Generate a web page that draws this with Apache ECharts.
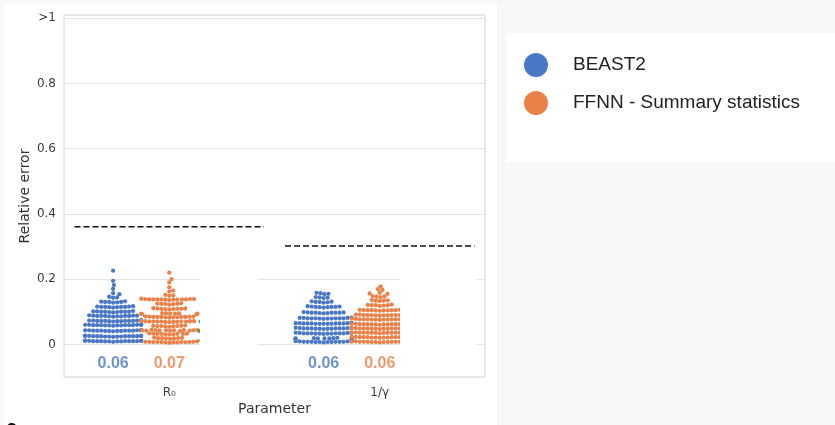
<!DOCTYPE html>
<html>
<head>
<meta charset="utf-8">
<script src="https://cdn.jsdelivr.net/npm/echarts@6/dist/echarts.min.js"></script>
<style>
  html, body { margin: 0; padding: 0; background: #f8f8f8; }
  #wrap { position: relative; width: 835px; height: 425px; overflow: hidden; }
  #panel { position: absolute; left: 4px; top: 4px; width: 493px; height: 421px; background: #fff; }
  #legendBox { position: absolute; left: 506px; top: 33px; width: 329px; height: 129px; background: #fff; }
  #chart { position: absolute; left: 0; top: 0; width: 835px; height: 425px; }
</style>
</head>
<body>
<div id="wrap">
  <div id="panel"></div>
  <div id="legendBox"></div>
  <div id="chart"></div>
</div>
<script>
// ---- data ---------------------------------------------------------------
const categories = ['R₀', '1/γ'];
const methods = ['BEAST2', 'FFNN - Summary statistics'];

// relative errors per test tree, R0
const beast2R0 = [
  0.010,0.009,0.011,0.010,0.008,0.012,0.010,0.009,0.011,0.010,0.010,0.009,0.011,0.010,0.009,0.011,0.010,
  0.025,0.024,0.026,0.025,0.023,0.027,0.025,0.024,0.026,0.025,0.025,0.024,0.026,0.025,0.024,0.026,0.025,
  0.042,0.041,0.043,0.042,0.040,0.044,0.042,0.041,0.043,0.042,0.042,0.041,0.043,0.042,0.041,0.043,
  0.059,0.058,0.060,0.059,0.057,0.061,0.059,0.058,0.060,0.059,0.059,0.058,0.060,0.059,0.058,0.060,
  0.072,0.071,0.073,0.072,0.070,0.074,0.072,0.071,0.073,0.072,0.072,0.071,0.073,0.072,
  0.087,0.086,0.088,0.087,0.085,0.089,0.087,0.086,0.088,0.087,0.087,0.086,0.088,
  0.100,0.099,0.101,0.100,0.098,0.102,0.100,0.099,0.101,0.100,0.100,
  0.115,0.114,0.116,0.115,0.113,0.117,0.115,0.114,0.116,0.115,
  0.130,0.129,0.131,0.130,0.128,0.132,0.130,
  0.143,0.144,0.146,
  0.154,0.157,0.170,0.182,0.195,0.226
];
const ffnnR0 = [
  0.007,0.006,0.008,0.007,0.005,0.009,0.007,0.006,0.008,0.007,0.007,0.006,0.008,0.007,
  0.019,0.018,0.020,0.019,0.017,0.021,0.019,0.018,
  0.032,0.031,0.033,0.032,0.030,0.034,0.032,0.031,0.033,0.032,
  0.043,0.042,0.044,0.043,0.041,0.045,0.043,0.042,0.044,0.043,0.043,0.042,0.044,
  0.056,0.055,0.057,0.056,0.054,0.058,0.056,0.055,0.057,
  0.070,0.069,0.071,0.070,0.068,0.072,0.070,0.069,0.071,0.070,0.070,0.069,0.071,0.070,
  0.084,0.083,0.085,0.084,0.082,0.086,0.084,0.083,0.085,0.084,0.084,0.083,0.085,
  0.094,0.093,0.095,0.094,0.092,0.096,0.094,0.093,0.095,0.094,
  0.109,0.108,0.110,0.109,0.107,0.111,0.109,0.108,0.110,
  0.124,0.123,0.125,0.124,0.122,0.126,0.124,
  0.138,0.137,0.139,0.138,0.136,0.140,0.138,0.137,0.139,0.138,0.138,0.137,0.139,0.138,
  0.149,0.150,0.152,
  0.162,0.165,0.175,0.190,0.200,0.220
];
const method3R0 = [
  0.012,0.011,0.013,0.012,0.010,0.014,0.012,0.011,0.013,0.012,0.012,0.011,0.013,0.012,
  0.027,0.026,0.028,0.027,0.025,0.029,
  0.040,0.039,0.041,0.040,0.038,0.042,0.040,0.039,0.041,0.040,0.040,0.039,0.041,0.040,
  0.054,0.053,0.055,0.054,0.052,0.056,
  0.068,0.067,0.069,0.068,0.066,0.070,0.068,0.067,0.069,0.068,0.068,0.067,0.069,
  0.084,0.085,0.086,0.087
];

// relative errors per test tree, 1/gamma
const beast2Gamma = [
  0.008,0.007,0.009,0.008,0.006,0.010,0.008,0.007,0.009,0.008,0.008,0.007,0.009,0.008,0.007,
  0.018,0.017,0.019,0.018,0.016,0.020,0.018,0.017,0.019,0.018,0.018,0.017,
  0.034,0.033,0.035,0.034,0.032,0.036,0.034,0.033,0.035,0.034,0.034,0.033,0.035,0.034,0.033,
  0.049,0.048,0.050,0.049,0.047,0.051,0.049,0.048,0.050,0.049,0.049,0.048,0.050,0.049,0.048,
  0.064,0.063,0.065,0.064,0.063,0.065,0.064,0.063,0.065,0.064,0.064,0.063,0.065,0.064,0.063,0.065,
  0.080,0.079,0.081,0.080,0.078,0.082,0.080,0.079,0.081,0.080,0.080,0.079,0.081,0.080,
  0.097,0.096,0.098,0.097,0.095,0.099,0.097,0.096,0.098,0.097,0.097,
  0.115,0.114,0.116,0.115,0.113,0.117,0.115,0.114,0.116,
  0.130,0.129,0.131,0.130,0.128,0.132,
  0.142,0.143,0.144,0.145,
  0.154,0.155,0.157,0.158
];
const ffnnGamma = [
  0.008,0.007,0.009,0.008,0.006,0.010,0.008,0.007,0.009,0.008,0.008,0.007,0.009,0.008,0.007,0.009,
  0.022,0.021,0.023,0.022,0.020,0.024,0.022,0.021,0.023,0.022,0.022,0.021,0.023,0.022,0.021,0.023,
  0.036,0.035,0.037,0.036,0.034,0.038,0.036,0.035,0.037,0.036,0.036,0.035,0.037,0.036,0.035,0.037,
  0.049,0.048,0.050,0.049,0.047,0.051,0.049,0.048,0.050,0.049,0.049,0.048,0.050,0.049,0.048,0.050,
  0.062,0.061,0.063,0.062,0.060,0.064,0.062,0.061,0.063,0.062,0.062,0.061,0.063,0.062,0.061,0.063,
  0.077,0.076,0.078,0.077,0.075,0.079,0.077,0.076,0.078,0.077,0.077,0.076,0.078,0.077,0.076,
  0.090,0.089,0.091,0.090,0.088,0.092,0.090,0.089,0.091,0.090,0.090,0.089,0.091,0.090,
  0.105,0.104,0.106,0.105,0.103,0.107,0.105,0.104,0.106,0.105,0.105,0.104,
  0.120,0.119,0.121,0.120,0.118,0.122,0.120,
  0.133,0.134,0.135,0.134,0.136,
  0.145,0.146,0.147,0.148,
  0.155,0.156,0.158,
  0.167,0.169,0.178
];

// reference error level drawn as a dashed line over each parameter
const baselineError = [0.361, 0.302];

// y-axis range
const yMin = -0.1, yMax = 1.01;

// ---- style --------------------------------------------------------------
const BLUE = '#4a78c4', ORANGE = '#ea8148', GREEN = '#3bb04a';
const AXIS_FONT = 'DejaVu Sans';
const LABEL_FONT = 'Liberation Sans, Arial, sans-serif';
const DOT = 4;                     // swarm spacing, px
const DOT_DRAWN = 4.3;             // marker diameter, px
const HUE_STEP = 0.8 / 3;          // dodge step between hues (3 hue slots)
const HALF_LANE = HUE_STEP / 2;    // swarm gutter half-width
const LABEL_Y = -0.06;             // vertical position of the median labels

const groups = [
  { name: methods[0], color: BLUE,   values: beast2R0,    cat: 0, hue: 0, label: true },
  { name: methods[1], color: ORANGE, values: ffnnR0,      cat: 0, hue: 1, label: true },
  { name: 'method3',  color: GREEN,  values: method3R0,   cat: 0, hue: 2, label: false },
  { name: methods[0], color: BLUE,   values: beast2Gamma, cat: 1, hue: 0, label: true },
  { name: methods[1], color: ORANGE, values: ffnnGamma,   cat: 1, hue: 1, label: true }
];

function median(arr) {
  const s = arr.slice().sort((a, b) => a - b);
  const n = s.length;
  return n % 2 ? s[(n - 1) / 2] : (s[n / 2 - 1] + s[n / 2]) / 2;
}

const chart = echarts.init(document.getElementById('chart'), null, { renderer: 'canvas' });

const baseOption = {
  animation: false,
  backgroundColor: 'transparent',
  grid: {
    left: 64, top: 15, width: 421, height: 362,
    show: true, borderColor: '#d6d6d6', borderWidth: 1, backgroundColor: 'transparent'
  },
  xAxis: [
    {
      type: 'category', data: categories, boundaryGap: true,
      axisLine: { show: false }, axisTick: { show: false }, splitLine: { show: false },
      axisLabel: { margin: 10, fontSize: 12, fontFamily: AXIS_FONT, color: '#3a3a3a' },
      name: 'Parameter', nameLocation: 'middle', nameGap: 25, nameMoveOverlap: false,
      nameTextStyle: { fontSize: 14, fontFamily: AXIS_FONT, color: '#333' }
    },
    { type: 'value', min: -0.5, max: 1.5, show: false }
  ],
  yAxis: {
    type: 'value', min: yMin, max: yMax,
    axisLine: { show: false }, axisTick: { show: false },
    splitLine: { show: true, lineStyle: { color: '#e4e4e4', width: 1 } },
    axisLabel: {
      showMinLabel: false, showMaxLabel: false, margin: 8,
      fontSize: 12, fontFamily: AXIS_FONT, color: '#3a3a3a',
      formatter: v => (v < -1e-9 || v > 1.001) ? '' : (v >= 0.999 ? '>1' : (Math.abs(v) < 1e-9 ? '0' : v.toFixed(1)))
    },
    name: 'Relative error', nameLocation: 'middle', nameGap: 32, nameRotate: 90, nameMoveOverlap: false,
    nameTextStyle: { fontSize: 14, fontFamily: AXIS_FONT, color: '#333' }
  },
  legend: {
    data: methods, orient: 'vertical', left: 519, top: 48,
    icon: 'circle', itemWidth: 24, itemHeight: 24, itemGap: 14, selectedMode: false,
    textStyle: { fontSize: 19, fontFamily: LABEL_FONT, color: '#222', padding: [0, 0, 0, 20] }
  },
  series: []
};

chart.setOption(baseOption);

// pixel helpers from the axes themselves
const xPx = v => chart.convertToPixel({ xAxisIndex: 1 }, v);
const yPx = v => chart.convertToPixel({ yAxisIndex: 0 }, v);
const pxPerX = xPx(1) - xPx(0);

// beeswarm placement: each point goes to the free offset closest to the lane centre
function swarmOffsets(values) {
  const order = values.map((_, i) => i).sort((a, b) => values[a] - values[b]);
  const placed = [];
  const out = new Array(values.length);
  const d2 = DOT * DOT;
  for (const i of order) {
    const y = yPx(values[i]);
    const near = placed.filter(p => Math.abs(p.y - y) < DOT);
    const cands = [0];
    for (const p of near) {
      const dx = Math.sqrt(d2 - (p.y - y) * (p.y - y));
      cands.push(p.x + dx, p.x - dx);
    }
    cands.sort((a, b) => Math.abs(a) - Math.abs(b));
    const x = cands.find(c => near.every(p => (p.x - c) * (p.x - c) + (p.y - y) * (p.y - y) >= d2 - 1e-6));
    placed.push({ x, y });
    out[i] = x;
  }
  const lim = HALF_LANE * pxPerX;
  return out.map(o => Math.max(-lim, Math.min(lim, o)) / pxPerX);
}

const series = [];

groups.forEach(g => {
  const centre = g.cat + (g.hue - 1) * HUE_STEP;
  const offs = swarmOffsets(g.values);
  series.push({
    name: g.name, type: 'scatter', xAxisIndex: 1, yAxisIndex: 0,
    symbolSize: DOT_DRAWN, itemStyle: { color: g.color, opacity: 1 },
    data: g.values.map((v, i) => [centre + offs[i], v]),
    z: 3 + g.hue
  });
  if (g.label) {
    series.push({
      name: g.name + ' median', type: 'scatter', xAxisIndex: 1, yAxisIndex: 0,
      symbolSize: 0, silent: true, z: 10,
      data: [[centre, LABEL_Y, median(g.values).toFixed(2)]],
      label: {
        show: true, position: 'inside', formatter: p => p.data[2],
        color: g.color, fontSize: 16, fontWeight: 'bold', fontFamily: LABEL_FONT
      }
    });
  }
});

baselineError.forEach((v, c) => {
  series.push({
    name: 'baseline ' + categories[c], type: 'line', xAxisIndex: 1, yAxisIndex: 0,
    symbol: 'none', silent: true, z: 6,
    lineStyle: { color: '#111', width: 1.5, type: [6, 3] },
    data: [[c - 0.45, v], [c + 0.45, v]]
  });
});

// white cover patches over the third hue lanes
const patches = [[0.146, 0.422], [1.096, 1.462]];
const patchTop = 0.252, patchBottom = -0.024;
const graphics = patches.map(([a, b]) => {
  const x0 = xPx(a), x1 = xPx(b), y0 = yPx(patchTop), y1 = yPx(patchBottom);
  return { type: 'rect', z: 100, shape: { x: x0, y: y0, width: x1 - x0, height: y1 - y0 }, style: { fill: '#ffffff' } };
});
graphics.push({
  type: 'text', z: 100, left: 6, top: 418,
  style: { text: 'c', font: 'bold 20px Liberation Sans', fill: '#111' }
});

chart.setOption(Object.assign({}, baseOption, { series: series, graphic: graphics }), true);
</script>
</body>
</html>
